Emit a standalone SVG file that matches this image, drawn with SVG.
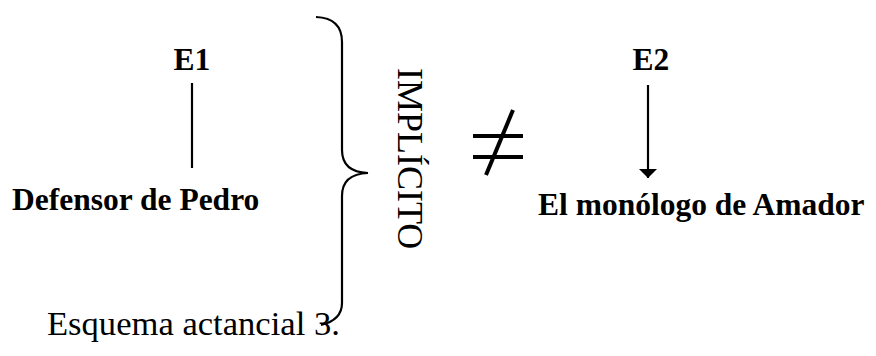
<svg xmlns="http://www.w3.org/2000/svg" width="876" height="356" viewBox="0 0 876 356">
<style>
text{font-family:'Liberation Serif',serif;fill:#000}
.b{font-weight:bold;font-size:31.5px}
.r{font-size:34.6px}
.ln{stroke:#000;stroke-width:2.2;fill:none}
</style>
<defs>
<marker id="ah" markerWidth="9" markerHeight="18" refX="9" refY="9" orient="auto" markerUnits="userSpaceOnUse" viewBox="0 0 9 18">
<path d="M0,0 L9,9 L0,18 Z" fill="#000"/>
</marker>
</defs>
<rect width="876" height="356" fill="#fff"/>
<g id="e1"><text class="b" x="192" y="70" text-anchor="middle">E1</text></g>
<g id="defensor"><text class="b" x="12" y="210">Defensor de Pedro</text></g>
<g id="e2"><text class="b" x="651" y="70" text-anchor="middle">E2</text></g>
<g id="monologo"><text class="b" x="538" y="215">El monólogo de Amador</text></g>
<g id="brace"><path class="ln" d="M316,17 Q342,18 342,42 L342,150 Q342,172 368,173 Q342,174 342,196 L342,303 Q342,320 321,325"/></g>
<g id="implicito"><text style="font-size:36px" transform="translate(398,68) rotate(90)">IMPLÍCITO</text></g>
<g id="neq">
<line x1="473" y1="136" x2="523" y2="136" stroke="#000" stroke-width="4"/>
<line x1="473" y1="157" x2="523" y2="157" stroke="#000" stroke-width="4"/>
<line x1="513" y1="110" x2="486" y2="175" stroke="#000" stroke-width="4"/>
</g>
<g id="connectors">
<line class="ln" x1="192" y1="83" x2="192" y2="168"/>
<line class="ln" x1="648" y1="85" x2="648" y2="178" marker-end="url(#ah)"/>
</g>
<g id="caption"><text class="r" x="47" y="335">Esquema actancial 3.</text></g>
</svg>
